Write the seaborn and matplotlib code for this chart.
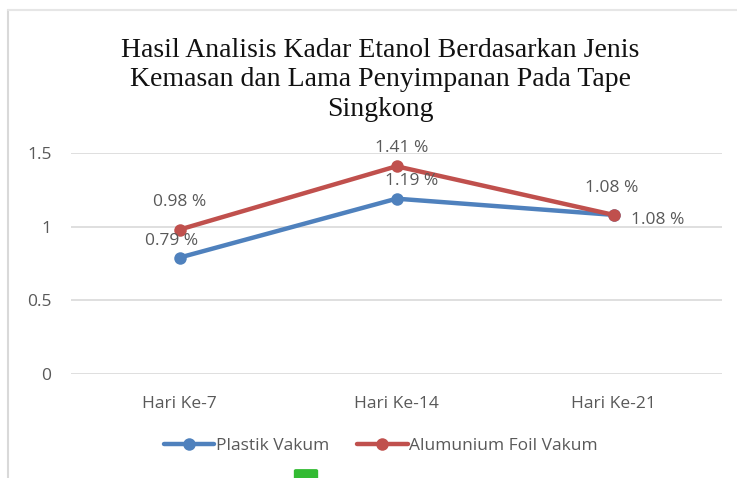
import pandas as pd
import matplotlib.pyplot as plt
import seaborn as sns
from matplotlib.lines import Line2D
from matplotlib.patches import FancyBboxPatch

# Data
hari = ["Hari Ke-7", "Hari Ke-14", "Hari Ke-21"]
plastik_vakum = [0.79, 1.19, 1.08]
alumunium_foil_vakum = [0.98, 1.41, 1.08]
series_names = ["Plastik Vakum", "Alumunium Foil Vakum"]
colors = ["#4F81BD", "#C0504D"]

df = pd.DataFrame({
    "hari": hari * 2,
    "kadar": plastik_vakum + alumunium_foil_vakum,
    "jenis": [series_names[0]] * 3 + [series_names[1]] * 3,
})

sns.set_theme(style="white")
plt.rcParams["font.family"] = ["Open Sans", "DejaVu Sans"]
text_gray = "#595959"
fs = 12.5

fig = plt.figure(figsize=(7.37, 4.78), dpi=100)
ax = fig.add_axes([71 / 737, (478 - 374) / 478, 651 / 737, (374 - 153) / 478])

sns.lineplot(data=df, x="hari", y="kadar", hue="jenis", palette=colors,
             marker="o", markersize=9, markeredgewidth=0, linewidth=3.2,
             legend=False, ax=ax)

ax.set_xlim(-0.5, 2.5)
ax.set_ylim(0, 1.5)
ax.set_yticks([0, 0.5, 1, 1.5])
ax.set_yticklabels(["0", "0.5", "1", "1.5"])
ax.yaxis.grid(True, color="#d9d9d9", linewidth=1.2)
ax.set_axisbelow(True)
for s in ax.spines.values():
    s.set_visible(False)
ax.tick_params(axis="y", length=0, pad=14, labelsize=fs, labelcolor=text_gray)
ax.tick_params(axis="x", length=0, pad=16, labelsize=fs, labelcolor=text_gray)
ax.set_xlabel("")
ax.set_ylabel("")

# data labels
blue_offsets = [(-6, 12), (11, 13), (32, -4)]
red_offsets = [(0, 20), (4, 13), (-1, 19)]
for i, v in enumerate(plastik_vakum):
    ax.annotate(f"{v:.2f} %", (i, v), xytext=blue_offsets[i], textcoords="offset points",
                ha="center", va="center", fontsize=fs, color=text_gray)
for i, v in enumerate(alumunium_foil_vakum):
    ax.annotate(f"{v:.2f} %", (i, v), xytext=red_offsets[i], textcoords="offset points",
                ha="center", va="center", fontsize=fs, color=text_gray)

# title
fig.text(380 / 737, 1 - 80 / 478,
         "Hasil Analisis Kadar Etanol Berdasarkan Jenis\nKemasan dan Lama Penyimpanan Pada Tape\nSingkong",
         ha="center", va="center", fontsize=20, family="Liberation Serif",
         color="#111111", linespacing=1.22)

# legend
handles = [Line2D([], [], color=c, linewidth=3.2, marker="o", markersize=9,
                  markeredgewidth=0) for c in colors]
fig.legend(handles, series_names, loc="center", bbox_to_anchor=(381 / 737, 1 - 446 / 478),
           ncol=2, frameon=False, fontsize=fs, labelcolor=text_gray,
           handlelength=2.9, handletextpad=0.1, columnspacing=1.6)

# chart frame edge (cropped screenshot)
fig.add_artist(Line2D([8 / 737, 8 / 737], [0, 1 - 10 / 478], transform=fig.transFigure,
                      color="#d9d9d9", linewidth=1.5))
fig.add_artist(Line2D([8 / 737, 1], [1 - 10 / 478, 1 - 10 / 478], transform=fig.transFigure,
                      color="#e6e6e6", linewidth=1.5))
fig.add_artist(FancyBboxPatch((296 / 737, -0.01), 20 / 737, 12 / 478,
                              boxstyle="round,pad=0.002", transform=fig.transFigure,
                              color="#33bb33"))

fig.savefig("out.png", dpi=100)
